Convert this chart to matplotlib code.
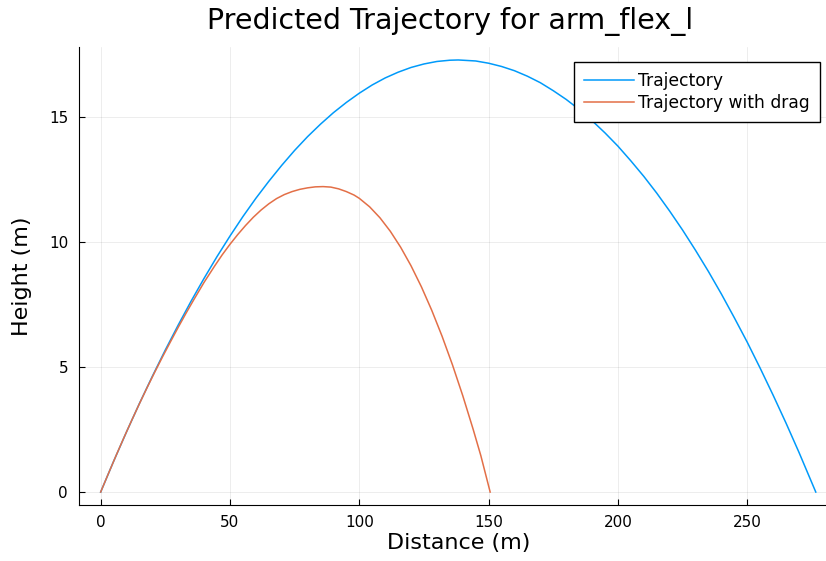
import matplotlib
matplotlib.use("Agg")
import matplotlib.pyplot as plt

# trajectory without drag
dist = [0, 5, 10, 15, 20, 25, 30, 35, 40, 45, 50, 55, 60, 65, 70, 75, 80, 85,
        90, 95, 100, 105, 110, 115, 120, 125, 130, 135, 138.25, 140, 145, 150,
        155, 160, 165, 170, 175, 180, 185, 190, 195, 200, 205, 210, 215, 220,
        225, 230, 235, 240, 245, 250, 255, 260, 265, 270, 276.5]
height = [0, 1.23, 2.41, 3.55, 4.64, 5.69, 6.69, 7.65, 8.56, 9.43, 10.25, 11.03,
          11.76, 12.44, 13.08, 13.68, 14.23, 14.73, 15.19, 15.60, 15.97, 16.30,
          16.58, 16.81, 17.00, 17.14, 17.24, 17.29, 17.30, 17.29, 17.26, 17.17,
          17.04, 16.87, 16.65, 16.39, 16.07, 15.72, 15.32, 14.87, 14.38, 13.85,
          13.26, 12.64, 11.97, 11.25, 10.49, 9.68, 8.83, 7.93, 6.98, 6.00, 4.96,
          3.88, 2.76, 1.59, 0]

# trajectory with drag
dist_drag = [0, 3, 6, 9, 12, 15, 18, 21, 24, 27, 30, 33, 36, 40, 44, 47, 50,
             53, 56, 59, 62, 65, 68, 71, 74, 77, 80, 83, 86, 89, 92, 95, 98,
             100, 104, 108, 112, 116, 120, 124, 128, 132, 136, 140, 144, 147,
             150.6]
height_drag = [0, 0.74, 1.47, 2.18, 2.87, 3.54, 4.19, 4.82, 5.43, 6.02, 6.6,
               7.16, 7.7, 8.4, 9.04, 9.5, 9.92, 10.31, 10.67, 11.0, 11.29,
               11.54, 11.75, 11.91, 12.03, 12.12, 12.18, 12.22, 12.23, 12.21,
               12.14, 12.03, 11.89, 11.76, 11.42, 10.98, 10.44, 9.80, 9.06,
               8.22, 7.28, 6.24, 5.10, 3.86, 2.52, 1.455, 0]

xticks = [0, 50, 100, 150, 200, 250]
yticks = [0, 5, 10, 15]

fig = plt.figure(figsize=(8.26, 5.61), dpi=100)
ax = fig.add_axes([0.0959, 0.0998, 0.9177, 0.8164])

ax.plot(dist, height, color='#009AFA', lw=1.1, label='Trajectory')
ax.plot(dist_drag, height_drag, color='#E36F47', lw=1.1, label='Trajectory with drag')

xmax = max(max(dist), max(dist_drag))
ymax = max(max(height), max(height_drag))
ax.set_xlim(-0.03 * xmax, 1.03 * xmax)
ax.set_ylim(-0.03 * ymax, 1.03 * ymax)

ax.set_xticks(xticks)
ax.set_yticks(yticks)
ax.grid(True, color='black', alpha=0.1, lw=0.5)
ax.spines['top'].set_visible(False)
ax.spines['right'].set_visible(False)
ax.tick_params(axis='both', direction='in', length=4, width=0.8, labelsize=11)
ax.tick_params(axis='x', pad=7)
ax.tick_params(axis='y', pad=8)

ax.set_xlabel('Distance (m)', fontsize=16, labelpad=2)
ax.yaxis.set_label_coords(-(79.2 - 21.7) / (0.9177 * 826), 0.5)
ax.set_ylabel('Height (m)', fontsize=16, va='center')
fig.text(450 / 826, 1 - 29.3 / 561, 'Predicted Trajectory for arm_flex_l',
         fontsize=20.5, ha='center', va='baseline')

leg = ax.legend(loc='upper right', bbox_to_anchor=(820 / 826, 1 - 62 / 561),
                bbox_transform=fig.transFigure, fontsize=12.3, fancybox=False,
                framealpha=1, edgecolor='black', borderpad=0.6,
                handlelength=2.9, handletextpad=0.25, labelspacing=0.2,
                borderaxespad=0)
leg.get_frame().set_linewidth(1.0)

fig.savefig('out.png', dpi=100)
